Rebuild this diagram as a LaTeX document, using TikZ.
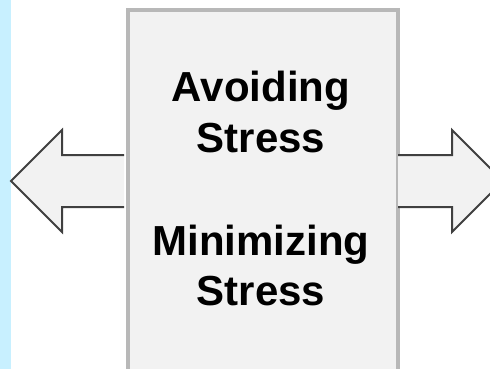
\documentclass[tikz,border=0pt]{standalone}
\usepackage{fontspec}
\setmainfont{Liberation Sans}
\definecolor{stripblue}{HTML}{C8F0FF}
\definecolor{panelfill}{HTML}{F2F2F2}
\definecolor{panelline}{HTML}{B8B8B8}
\definecolor{arrowline}{HTML}{404040}
\tikzset{
  panel/.style={draw=panelline, line width=4pt, fill=panelfill},
  fatarrow/.style={draw=arrowline, line width=2pt, fill=panelfill, line join=miter},
  label/.style={font=\fontsize{42}{50}\selectfont\bfseries, anchor=base, inner sep=0pt}
}
\begin{document}
\begin{tikzpicture}[x=1pt,y=-1pt]
  \useasboundingbox (0,0) rectangle (490,369);
  \clip (0,0) rectangle (490,369);
  \fill[white] (0,0) rectangle (490,369);
  % light blue margin strip
  \fill[stripblue] (0,0) rectangle (11,369);
  % central panel
  \node[panel, minimum width=270pt, minimum height=361pt, inner sep=0pt, anchor=north west] (box) at (126,8) {};
  % outward arrows on both sides of the panel
  \coordinate (lb) at (124,181);
  \coordinate (rb) at (398,181);
  \draw[fatarrow] (lb) ++(0,-26) -- ++(-62,0) -- ++(0,-25) -- (11,181) -- (62,232) -- ++(0,-25) -- (lb |- 0,207);
  \draw[fatarrow] (rb) ++(0,-26) -- ++(54,0) -- ++(0,-25) -- (503,181) -- (452,232) -- ++(0,-25) -- (rb |- 0,207);
  % panel text
  \node[label] (t1) at (261,102) {Avoiding};
  \node[label] (t2) at (261,152) {Stress};
  \node[label] (t3) at (261,255) {Minimizing};
  \node[label] (t4) at (261,305) {Stress};
\end{tikzpicture}
\end{document}
